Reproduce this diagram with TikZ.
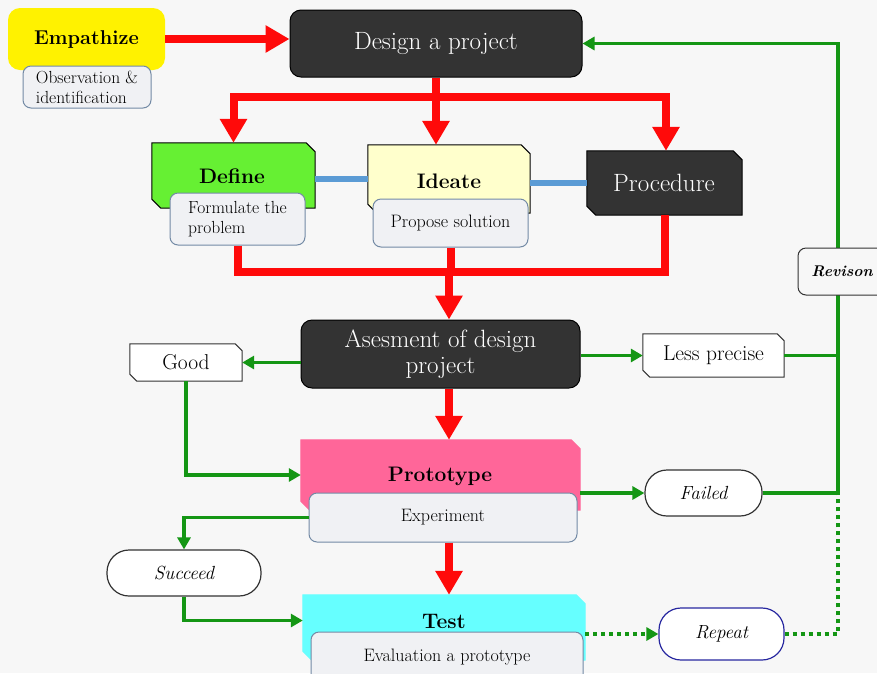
\documentclass[tikz,border=0pt]{standalone}
\usetikzlibrary{arrows.meta,calc}
\definecolor{bgc}{RGB}{247,247,247}
\definecolor{redc}{RGB}{255,10,10}
\definecolor{grc}{RGB}{20,150,20}
\definecolor{darkc}{RGB}{51,51,51}
\definecolor{blc}{RGB}{91,155,213}
\definecolor{subf}{RGB}{240,241,244}
\definecolor{subb}{RGB}{115,138,165}
\definecolor{defc}{RGB}{102,240,51}
\definecolor{idc}{RGB}{255,255,204}
\definecolor{pinkc}{RGB}{255,102,153}
\definecolor{cyanc}{RGB}{102,255,255}
\definecolor{repc}{RGB}{40,40,160}
\newcommand\fTitle{\fontsize{21}{25}\selectfont\bfseries}
\newcommand\fEmp{\fontsize{20}{24}\selectfont\bfseries}
\newcommand\fBig{\fontsize{25}{26}\selectfont}
\newcommand\fMid{\fontsize{21.5}{25}\selectfont}
\newcommand\fSmall{\fontsize{18}{21}\selectfont}
\newcommand\fSmaller{\fontsize{17.5}{20}\selectfont}
\newcommand\fIt{\fontsize{19}{22}\selectfont\itshape}
\newcommand\cbox[4]{% name, fill, draw, chamfer
  \path[fill=#2,draw=#3,line width=1pt] (#1.north west) -- ($(#1.north east)+(-#4,0)$) -- ($(#1.north east)+(0,#4)$) -- (#1.south east) -- ($(#1.south west)+(#4,0)$) -- ($(#1.south west)+(0,-#4)$) -- cycle;}
\begin{document}
\begin{tikzpicture}[x=1pt,y=-1pt,
  geom/.style={rectangle,inner sep=0pt,minimum width=#1},
  redline/.style={draw=redc,line width=8pt,line join=miter},
  redarr/.style={redline,-{Triangle[width=26pt,length=24pt]}},
  grline/.style={draw=grc,line width=3.5pt,line join=miter},
  grarr/.style={grline,-{Triangle[width=13pt,length=12pt]}},
  dotg/.style={draw=grc,line width=4pt,dash pattern=on 4pt off 4pt},
  blline/.style={draw=blc,line width=6pt},
  subbox/.style={rectangle,rounded corners=8pt,draw=subb,fill=subf,line width=1pt,font=\fSmall,inner sep=2pt},
  darkbox/.style={rectangle,rounded corners=11pt,draw=black,fill=darkc,line width=1pt,text=white,font=\fBig},
  pill/.style={rectangle,rounded corners=22pt,draw=darkc,fill=white,line width=1.2pt,font=\fIt},
  txt/.style={inner sep=0pt}]
\useasboundingbox (0,0) rectangle (877,673);
\fill[bgc] (0,0) rectangle (877,673);

% Empathize
\node[rectangle,rounded corners=12pt,fill=yellow,minimum width=157pt,minimum height=62pt,font=\fEmp] (emp) at (86.5,39) {Empathize};
\node[subbox,font=\fSmaller,minimum width=128pt,minimum height=42pt,align=left] (obs) at (87,87) {Observation \&\\identification};

% Design a project
\node[darkbox,minimum width=292pt,minimum height=67pt] (design) at (436,43.5) {Design a project};

% Define / Ideate / Procedure shapes
\node[geom=163pt,minimum height=65pt] (define) at (233.5,175.5) {};
\cbox{define}{defc}{black}{9}
\node[txt,font=\fTitle] (definet) at (232,176) {Define};
\node[geom=162pt,minimum height=68pt] (ideate) at (449,179) {};
\cbox{ideate}{idc}{black}{9}
\node[txt,font=\fTitle] (ideatet) at (449,181) {Ideate};
\node[geom=155pt,minimum height=64pt] (proc) at (664.5,183) {};
\cbox{proc}{darkc}{black}{9}
\node[txt,font=\fBig,text=white] (proct) at (664,183) {Procedure};

\node[subbox,font=\fSmaller,minimum width=135pt,minimum height=52pt,align=left] (form) at (237.5,219) {Formulate the\\problem};
\node[subbox,minimum width=155pt,minimum height=48pt] (prop) at (450.5,223) {Propose solution};

% blue links
\draw[blline] (define.east |- ideate.west) -- (ideate.west);
\draw[blline] (ideate.east |- proc.west) -- (proc.west);

% Assessment
\node[darkbox,minimum width=279pt,minimum height=68pt,align=center] (assess) at (440.5,354) {Asesment of design\\project};

% Good / Less precise
\node[geom=112pt,minimum height=37pt] (good) at (186,362.5) {};
\cbox{good}{white}{darkc}{7}
\node[txt,font=\fMid] (goodt) at (186,362.5) {Good};
\node[geom=141pt,minimum height=43pt] (less) at (713.5,355.5) {};
\cbox{less}{white}{darkc}{7}
\node[txt,font=\fMid] (lesst) at (713.5,355.5) {Less precise};

% Prototype
\node[geom=279pt,minimum height=70pt] (proto) at (440.5,475) {};
\cbox{proto}{pinkc}{pinkc}{9}
\node[txt,font=\fTitle] (protot) at (440,476) {Prototype};
\node[subbox,minimum width=268pt,minimum height=49pt] (exp) at (443,517.5) {Experiment};

% Failed / Succeed / Repeat
\node[pill,minimum width=117pt,minimum height=46pt] (failed) at (703.5,493) {Failed};
\node[pill,minimum width=154pt,minimum height=46pt] (succeed) at (184,573) {Succeed};
\node[pill,draw=repc,minimum width=125pt,minimum height=52pt] (repeat) at (721.5,634) {Repeat};

% Test
\node[geom=282pt,minimum height=65pt] (test) at (444,627.5) {};
\cbox{test}{cyanc}{cyanc}{9}
\node[txt,font=\fTitle] (testt) at (444,621) {Test};
\node[subbox,minimum width=272pt,minimum height=50pt] (eval) at (447,657) {\raisebox{4pt}{Evaluation a prototype}};

% red connectors
\coordinate (j1) at (436,97);
\coordinate (j2) at (449,272);
\draw[redarr] (emp.east) -- (emp.east -| design.west);
\draw[redline] (design.south) -- (j1);
\draw[redarr] (j1) -| (define.north);
\draw[redarr] (j1) -| ([xshift=1.5pt]proc.north);
\draw[redarr] (j1) -- (j1 |- ideate.north);
\draw[redline] (form.south) |- (proc.south |- j2) -- (proc.south);
\draw[redline] (prop.south) -- (prop.south |- j2);
\draw[redarr] (j2) -- (j2 |- assess.north);
\draw[redarr] (j2 |- assess.south) -- (j2 |- proto.north);
\draw[redarr] (j2 |- exp.south) -- (j2 |- test.north);

% green connectors
\coordinate (rx) at (838,44);
\draw[grarr] (assess.west |- good.east) -- (good.east);
\draw[grarr] (good.south) |- (proto.west);
\draw[grarr] (assess.east |- less.west) -- (less.west);
\draw[grline] (less.east) -- (less.east -| rx);
\draw[grarr] (failed.east -| rx) -- (rx |- design.east) -- (design.east);
\draw[grarr] (proto.east |- failed.west) -- (failed.west);
\draw[grline] (failed.east) -- (failed.east -| rx);
\draw[grarr] (exp.west) -| (succeed.north);
\draw[grarr] (succeed.south) |- ([yshift=7pt]test.west);
\draw[dotg,-{Triangle[width=13pt,length=12pt]}] (test.east |- repeat.west) -- (repeat.west);
\draw[dotg] (repeat.east) -| (failed.east -| rx);

% Revison
\node[rectangle,rounded corners=8pt,draw=darkc,fill=bgc,line width=1pt,minimum width=88pt,minimum height=47pt,font=\fontsize{15.5}{19}\selectfont\bfseries\itshape] (rev) at (842,271.5) {Revison};
\end{tikzpicture}
\end{document}
